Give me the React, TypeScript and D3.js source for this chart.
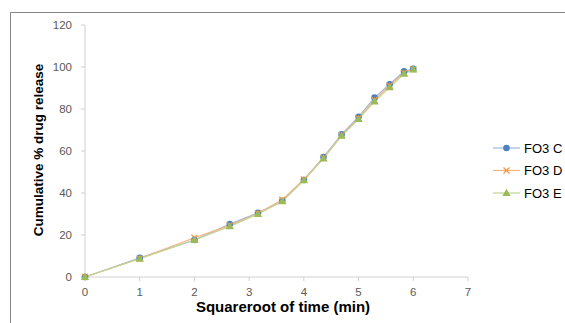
import React from "react";
import * as d3 from "d3";

const timeSqrt = [0, 1, 2, 2.646, 3.162, 3.606, 4, 4.359, 4.69, 5, 5.292, 5.568, 5.831, 6];
const seriesC = [0, 9.1, 17.6, 25.2, 30.6, 36.3, 46.2, 57.1, 67.9, 76.3, 85.4, 91.8, 97.9, 99.1];
const seriesD = [0, 8.8, 18.7, 24.6, 30.2, 36.8, 46.4, 56.7, 67.5, 75.6, 84.3, 91.2, 97.2, 99.0];
const seriesE = [0, 8.7, 17.6, 24.1, 30.0, 36.0, 46.0, 56.4, 67.2, 75.2, 83.5, 90.3, 96.7, 98.8];
const xTicks = [0, 1, 2, 3, 4, 5, 6, 7];
const yTicks = [0, 20, 40, 60, 80, 100, 120];
const seriesNames = ["FO3 C", "FO3 D", "FO3 E"];

const W = 565, H = 323;
const colors = ["#4f81bd", "#f79646", "#9bbb59"];
const lineColors = ["#9db7dd", "#f7b37e", "#bfd596"];

export default function App() {
  const x = d3.scaleLinear().domain([0, 7]).range([85, 468]);
  const y = d3.scaleLinear().domain([0, 120]).range([277, 25]);
  const all = [seriesC, seriesD, seriesE];
  const line = d3.line<number>().x((_, i) => x(timeSqrt[i])).y((d) => y(d));
  const tri = d3.symbol().type(d3.symbolTriangle).size(30)() as string;
  const font = "'Liberation Sans', Arial, sans-serif";

  const marker = (k: number, cx: number, cy: number, key: string) => {
    if (k === 0) return <circle key={key} cx={cx} cy={cy} r={3.3} fill={colors[0]} />;
    if (k === 1)
      return (
        <g key={key} transform={`translate(${cx},${cy})`} stroke={colors[1]} strokeWidth={1.3}>
          <line x1={-3} y1={-3} x2={3} y2={3} />
          <line x1={-3} y1={3} x2={3} y2={-3} />
        </g>
      );
    return <path key={key} d={tri} transform={`translate(${cx},${cy + 0.5})`} fill={colors[2]} />;
  };

  return (
    <svg width={W} height={H} style={{ position: "absolute", left: 0, top: 0 }}>
      <rect x={0} y={0} width={W} height={H} fill="#fff" />
      <path d={`M10.5,${H} V12.5 H${W}`} fill="none" stroke="#868686" strokeWidth={1} />
      {/* axes */}
      <line x1={x(0)} x2={x(0)} y1={y(120)} y2={y(0)} stroke="#d0d0d0" />
      <line x1={x(0)} x2={x(7)} y1={y(0)} y2={y(0)} stroke="#d0d0d0" />
      {yTicks.map((t) => (
        <g key={"y" + t}>
          <line x1={x(0) - 4} x2={x(0)} y1={y(t)} y2={y(t)} stroke="#d0d0d0" />
          <text x={x(0) - 13} y={y(t)} dy="0.35em" textAnchor="end" fontSize={11.5} fill="#595959" fontFamily={font}>
            {t}
          </text>
        </g>
      ))}
      {xTicks.map((t) => (
        <g key={"x" + t}>
          <line x1={x(t)} x2={x(t)} y1={y(0)} y2={y(0) + 4} stroke="#d0d0d0" />
          <text x={x(t)} y={y(0) + 19} textAnchor="middle" fontSize={11.5} fill="#595959" fontFamily={font}>
            {t}
          </text>
        </g>
      ))}
      {/* series */}
      {all.map((s, k) => (
        <path key={"l" + k} d={line(s) as string} fill="none" stroke={lineColors[k]} strokeWidth={1.2} />
      ))}
      {all.map((s, k) => s.map((v, i) => marker(k, x(timeSqrt[i]), y(v), `m${k}-${i}`)))}
      {/* axis titles */}
      <text x={283} y={312} textAnchor="middle" fontSize={15} fontWeight="bold" fill="#000" fontFamily={font}>
        Squareroot of time (min)
      </text>
      <text
        transform={`translate(43,150) rotate(-90)`}
        textAnchor="middle"
        fontSize={13.5}
        fontWeight="bold"
        fill="#000"
        fontFamily={font}
      >
        Cumulative % drug release
      </text>
      {/* legend */}
      {seriesNames.map((n, k) => {
        const ly = 148 + k * 22.5;
        return (
          <g key={"lg" + k}>
            <line x1={493} x2={520} y1={ly} y2={ly} stroke={lineColors[k]} strokeWidth={1.2} />
            {marker(k, 506.5, ly, "lm" + k)}
            <text x={524} y={ly} dy="0.35em" fontSize={13} fill="#000" fontFamily={font}>
              {n}
            </text>
          </g>
        );
      })}
    </svg>
  );
}
